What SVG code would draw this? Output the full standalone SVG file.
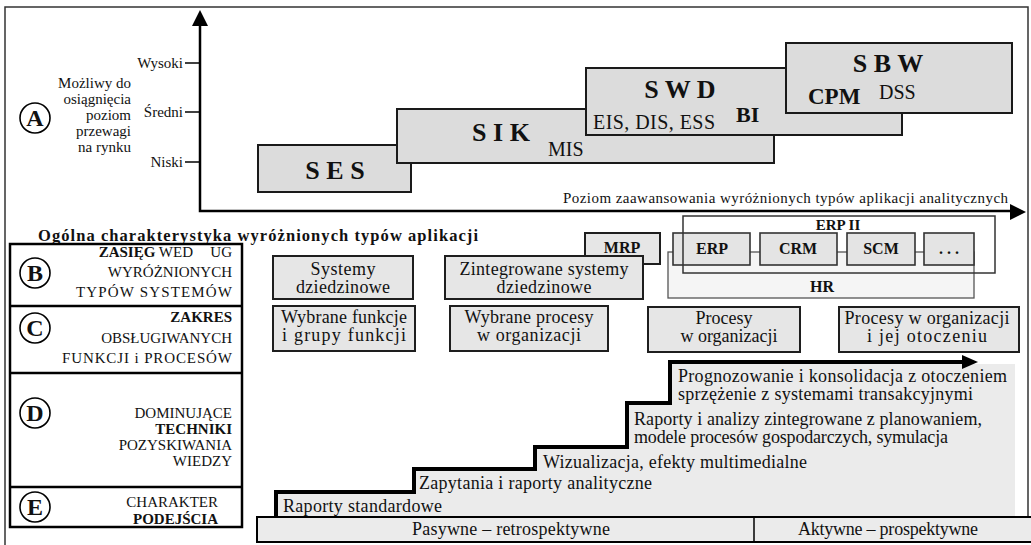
<svg xmlns="http://www.w3.org/2000/svg" width="1031" height="545" viewBox="0 0 1031 545" font-family="'Liberation Serif', 'DejaVu Serif', serif">
  <style>
    text { font-family: 'Liberation Serif', 'DejaVu Serif', serif; fill: #111; }
    .b { font-weight: bold; }
    .lvl { fill: #dcdcdc; stroke: #1a1a1a; stroke-width: 2; }
    .cell { fill: #e6e6e6; stroke: #1e1e1e; stroke-width: 2; }
    .mod { fill: #e4e4e4; stroke: #333; stroke-width: 1.6; }
    .axis { fill: none; stroke: #000; stroke-width: 2.5; }
    .lab { font-size: 15px; text-anchor: end; }
    .mid { text-anchor: middle; }
    .tbl { fill: none; stroke: #000; stroke-width: 2.5; }
    .circ { fill: #fff; stroke: #000; stroke-width: 1.6; }
    .letter { font-size: 24px; font-weight: bold; text-anchor: middle; }
    .t18 { font-size: 18px; }
  </style>

  <!-- outer frame -->
  <path d="M5,545 L5,7 L1028,7 L1028,517" fill="none" stroke="#333" stroke-width="1.5"/>

  <!-- section A: level axis -->
  <g id="axes">
    <path class="axis" d="M200,24 L200,211 L1012,211"/>
    <path d="M200,10 L192,26 L208,26 z" fill="#000"/>
    <path d="M1026,212 L1010,204 L1010,220 z" fill="#000"/>
    <line x1="185" y1="63" x2="200" y2="63" stroke="#000" stroke-width="1.5"/>
    <line x1="185" y1="112" x2="200" y2="112" stroke="#000" stroke-width="1.5"/>
    <line x1="185" y1="162" x2="200" y2="162" stroke="#000" stroke-width="1.5"/>
    <text class="lab" x="183" y="68">Wysoki</text>
    <text class="lab" x="183" y="117">Średni</text>
    <text class="lab" x="183" y="167">Niski</text>
    <text class="lab" x="131" y="88">Możliwy do</text>
    <text class="lab" x="131" y="104">osiągnięcia</text>
    <text class="lab" x="131" y="120">poziom</text>
    <text class="lab" x="131" y="136">przewagi</text>
    <text class="lab" x="131" y="152">na rynku</text>
    <text x="563" y="203" font-size="15" textLength="445" lengthAdjust="spacing">Poziom zaawansowania wyróżnionych typów aplikacji analitycznych</text>
  </g>

  <g id="markA">
    <circle class="circ" cx="35" cy="118" r="15"/>
    <text class="letter" x="35" y="126">A</text>
  </g>

  <!-- application levels -->
  <g id="ses">
    <rect class="lvl" x="258" y="145" width="153" height="47"/>
    <text class="b mid" x="335" y="179" font-size="26">S E S</text>
  </g>
  <g id="sik">
    <rect class="lvl" x="397" y="109" width="377" height="54"/>
    <text class="b mid" x="501" y="141" font-size="26">S I K</text>
    <text x="548" y="156" font-size="20">MIS</text>
  </g>
  <g id="swd">
    <rect class="lvl" x="586" y="68" width="316" height="67"/>
    <text class="b mid" x="680" y="98" font-size="26">S W D</text>
    <text x="593" y="129" font-size="20" textLength="122" lengthAdjust="spacing">EIS, DIS, ESS</text>
    <text class="b" x="736" y="122" font-size="22">BI</text>
  </g>
  <g id="sbw">
    <rect class="lvl" x="786" y="43" width="226" height="70" stroke="#444" stroke-width="1.6"/>
    <text class="b mid" x="888" y="72" font-size="26">S B W</text>
    <text class="b" x="808" y="104" font-size="23">CPM</text>
    <text x="879" y="99" font-size="20">DSS</text>
  </g>

  <!-- characteristics heading and left table -->
  <text class="b" x="38" y="241" font-size="16.5" textLength="440" lengthAdjust="spacing">Ogólna charakterystyka wyróżnionych typów aplikacji</text>

  <g id="table">
    <rect class="tbl" x="10" y="244" width="232" height="283"/>
    <line x1="10" y1="306" x2="242" y2="306" stroke="#000" stroke-width="2.5"/>
    <line x1="10" y1="373" x2="242" y2="373" stroke="#000" stroke-width="2.5"/>
    <line x1="10" y1="487" x2="242" y2="487" stroke="#000" stroke-width="2.5"/>
  </g>

  <g id="rowB">
    <circle class="circ" cx="35" cy="273" r="15"/>
    <text class="letter" x="35" y="281">B</text>
    <text class="lab" x="193" y="257"><tspan class="b">ZASIĘG</tspan> WED</text>
    <text class="lab" x="232" y="257">UG</text>
    <text class="lab" x="232" y="277">WYRÓŻNIONYCH</text>
    <text class="lab" x="232" y="297" textLength="156" lengthAdjust="spacing">TYPÓW SYSTEMÓW</text>
  </g>
  <g id="rowC">
    <circle class="circ" cx="35" cy="328" r="15"/>
    <text class="letter" x="35" y="336">C</text>
    <text class="lab b" x="232" y="322">ZAKRES</text>
    <text class="lab" x="232" y="343">OBSŁUGIWANYCH</text>
    <text class="lab" x="232" y="363" textLength="170" lengthAdjust="spacing">FUNKCJI i PROCESÓW</text>
  </g>
  <g id="rowD">
    <circle class="circ" cx="35" cy="413" r="15"/>
    <text class="letter" x="35" y="421">D</text>
    <text class="lab" x="232" y="418" font-size="14">DOMINUJĄCE</text>
    <text class="lab b" x="232" y="434" font-size="14">TECHNIKI</text>
    <text class="lab" x="232" y="450" font-size="14">POZYSKIWANIA</text>
    <text class="lab" x="232" y="466" font-size="14">WIEDZY</text>
  </g>
  <g id="rowE">
    <circle class="circ" cx="35" cy="507" r="15"/>
    <text class="letter" x="35" y="515">E</text>
    <text class="lab" x="218" y="507">CHARAKTER</text>
    <text class="lab b" x="218" y="524">PODEJŚCIA</text>
  </g>

  <!-- row B: system scope -->
  <g id="mrp">
    <rect class="cell" x="585" y="233" width="75" height="31" fill="#dcdcdc"/>
    <text class="b mid" x="622" y="253" font-size="16">MRP</text>
  </g>
  <g id="domain">
    <rect class="cell" x="273" y="256" width="140" height="43"/>
    <text class="mid t18" x="343" y="275" textLength="65" lengthAdjust="spacing">Systemy</text>
    <text class="mid t18" x="343" y="293" textLength="94" lengthAdjust="spacing">dziedzinowe</text>
  </g>
  <g id="integrated">
    <rect class="cell" x="445" y="256" width="198" height="43"/>
    <text class="mid t18" x="544" y="275" textLength="169" lengthAdjust="spacing">Zintegrowane systemy</text>
    <text class="mid t18" x="544" y="293" textLength="95" lengthAdjust="spacing">dziedzinowe</text>
  </g>
  <g id="hr">
    <rect x="668" y="252" width="306" height="46" fill="#f5f5f5" stroke="#555" stroke-width="1.3"/>
    <text class="b mid" x="822" y="292" font-size="16">HR</text>
  </g>
  <g id="erp">
    <rect class="mod" x="673" y="233" width="77" height="32" stroke="#111" stroke-width="2"/>
    <text class="b mid" x="712" y="254" font-size="16">ERP</text>
  </g>
  <g id="crm">
    <rect class="mod" x="760" y="233" width="77" height="32"/>
    <text class="b mid" x="798" y="254" font-size="16">CRM</text>
  </g>
  <g id="scm">
    <rect class="mod" x="847" y="233" width="68" height="32"/>
    <text class="b mid" x="881" y="254" font-size="16">SCM</text>
  </g>
  <g id="more">
    <rect class="mod" x="924" y="233" width="50" height="32"/>
    <text class="b mid" x="949" y="254" font-size="16">. . .</text>
  </g>
  <g id="erp2">
    <rect x="683" y="216" width="312" height="57" fill="none" stroke="#333" stroke-width="1.5"/>
    <text class="b mid" x="838" y="230" font-size="15">ERP II</text>
  </g>

  <!-- row C: functions and processes -->
  <g id="functions">
    <rect class="cell" x="273" y="306" width="142" height="45"/>
    <text class="mid t18" x="344" y="323" textLength="126" lengthAdjust="spacing">Wybrane funkcje</text>
    <text class="mid t18" x="344" y="341" textLength="124" lengthAdjust="spacing">i grupy funkcji</text>
  </g>
  <g id="selected">
    <rect class="cell" x="450" y="306" width="158" height="45"/>
    <text class="mid t18" x="529" y="323" textLength="129" lengthAdjust="spacing">Wybrane procesy</text>
    <text class="mid t18" x="529" y="341" textLength="104" lengthAdjust="spacing">w organizacji</text>
  </g>
  <g id="processes">
    <rect class="cell" x="648" y="307" width="152" height="45"/>
    <text class="mid t18" x="724" y="324">Procesy</text>
    <text class="mid t18" x="729" y="342">w organizacji</text>
  </g>
  <g id="environment">
    <rect class="cell" x="839" y="307" width="180" height="45"/>
    <text class="mid t18" x="927" y="324" textLength="165" lengthAdjust="spacing">Procesy w organizacji</text>
    <text class="mid t18" x="927" y="342" textLength="120" lengthAdjust="spacing">i jej otoczeniu</text>
  </g>

  <!-- row D: techniques staircase -->
  <g id="stairs">
    <path d="M276,517 L276,492 L414,492 L414,469 L535,469 L535,447 L627,447 L627,403 L670,403 L670,364 L1015,364 L1015,517 z" fill="#ebebeb"/>
    <path d="M276,517 L276,492 L414,492 L414,469 L535,469 L535,447 L627,447 L627,403 L670,403 L670,362 L964,362" fill="none" stroke="#000" stroke-width="4"/>
    <path d="M978,362 L962,355 L962,369 z" fill="#000"/>
    <text class="t18" x="283" y="512" textLength="159" lengthAdjust="spacing">Raporty standardowe</text>
    <text class="t18" x="419" y="489" textLength="233" lengthAdjust="spacing">Zapytania i raporty analityczne</text>
    <text class="t18" x="543" y="468" textLength="264" lengthAdjust="spacing">Wizualizacja, efekty multimedialne</text>
    <text class="t18" x="634" y="425" textLength="348" lengthAdjust="spacing">Raporty i analizy zintegrowane z planowaniem,</text>
    <text class="t18" x="634" y="443" textLength="314" lengthAdjust="spacing">modele procesów gospodarczych, symulacja</text>
    <text class="t18" x="678" y="382" textLength="329" lengthAdjust="spacing">Prognozowanie i konsolidacja z otoczeniem</text>
    <text class="t18" x="678" y="400" textLength="295" lengthAdjust="spacing">sprzężenie z systemami transakcyjnymi</text>
  </g>

  <!-- row E: approach -->
  <g id="approach">
    <rect x="257" y="517" width="776" height="25" fill="#ebebeb" stroke="#000" stroke-width="2"/>
    <line x1="754" y1="517" x2="754" y2="542" stroke="#000" stroke-width="1.5"/>
    <text class="mid t18" x="511" y="535" textLength="198" lengthAdjust="spacing">Pasywne – retrospektywne</text>
    <text class="mid t18" x="888" y="535" textLength="180" lengthAdjust="spacing">Aktywne – prospektywne</text>
  </g>
</svg>
